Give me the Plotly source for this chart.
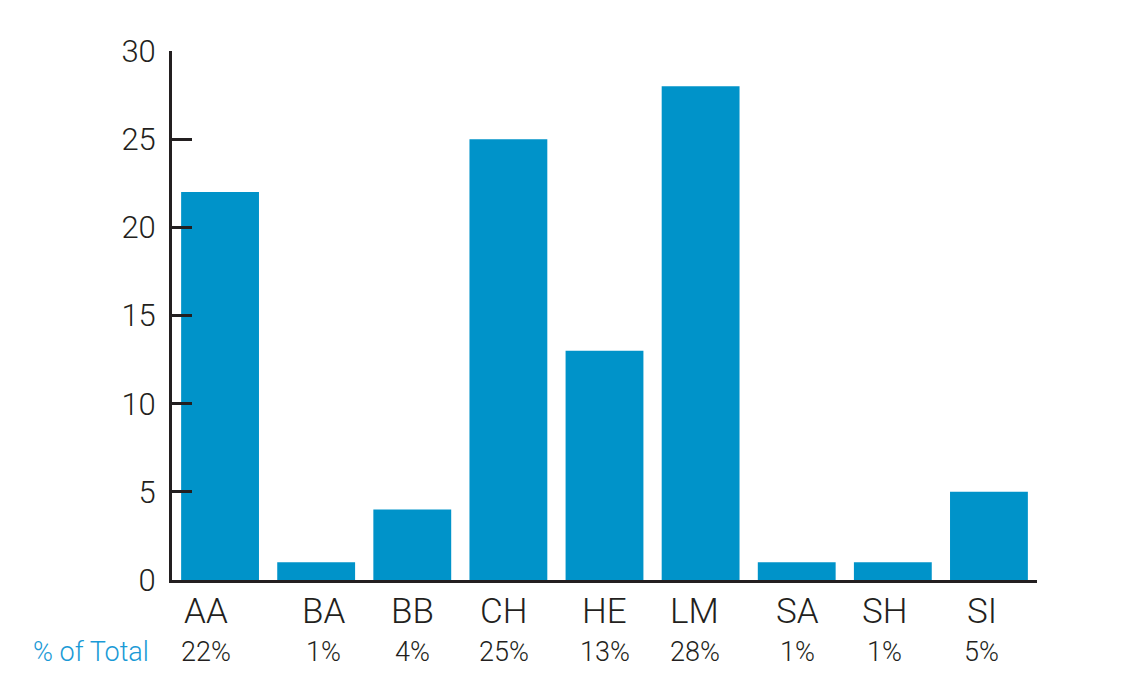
import plotly.graph_objects as go

categories = ["AA", "BA", "BB", "CH", "HE", "LM", "SA", "SH", "SI"]
counts = [22, 1, 4, 25, 13, 28, 1, 1, 5]
pct_labels = ["22%", "1%", "4%", "25%", "13%", "28%", "1%", "1%", "5%"]
row_label = "% of Total"
y_ticks = [0, 5, 10, 15, 20, 25, 30]
# small horizontal nudges of the category labels (pixels), as in the original layout
label_xshift = [-14, 7, 0, -4, 0, -6, 1, -8, -7]

FONT = "Roboto, 'DejaVu Sans Condensed', sans-serif"
DARK = "#231f20"
BLUE = "#0093c9"

W, H = 1121, 694
OFF = 8  # page body margin in the browser
L, R, T, B = 172 - OFF, 1037 - OFF, 51 - OFF, 580 - OFF


def py(screen_y):
    return (B - (screen_y - OFF)) / (B - T)


def px(screen_x):
    return ((screen_x - OFF) - L) / (R - L)


fig = go.Figure()
fig.add_trace(go.Bar(x=categories, y=counts, marker=dict(color=BLUE, line=dict(width=0)),
                     hoverinfo="skip"))

annotations = []
for c, p, dx in zip(categories, pct_labels, label_xshift):
    annotations.append(dict(x=c, xref="x", y=py(611), yref="paper", text=c, showarrow=False,
                            xshift=dx,
                            font=dict(family=FONT, size=35, color=DARK, weight=300),
                            xanchor="center", yanchor="middle"))
    annotations.append(dict(x=c, xref="x", y=py(652), yref="paper", text=p, showarrow=False,
                            xshift=dx,
                            font=dict(family=FONT, size=27, color=DARK, weight=300),
                            xanchor="center", yanchor="middle"))
annotations.append(dict(x=px(151), xref="paper", y=py(652), yref="paper", text=row_label, showarrow=False,
                        font=dict(family=FONT, size=27, color="#1a9ad6", weight=300),
                        xanchor="right", yanchor="middle"))

fig.update_layout(
    width=W, height=H,
    margin=dict(l=L, r=W - R, t=T, b=H - B, autoexpand=False),
    paper_bgcolor="white", plot_bgcolor="white",
    showlegend=False,
    bargap=0.19,
    font=dict(family=FONT, color=DARK),
    annotations=annotations,
    xaxis=dict(range=[-0.5, 8.5], showline=True, linecolor=DARK, linewidth=3,
               ticks="", showgrid=False, zeroline=False, showticklabels=False,
               automargin=False),
    yaxis=dict(range=[0, 30], tickvals=y_ticks, showline=True, linecolor=DARK, linewidth=3,
               ticks="inside", ticklen=20, tickwidth=3, tickcolor=DARK,
               showgrid=False, zeroline=False, ticklabelstandoff=7, automargin=False,
               tickfont=dict(family=FONT, size=31, color=DARK, weight=300)),
)

fig.write_html("out.html")
